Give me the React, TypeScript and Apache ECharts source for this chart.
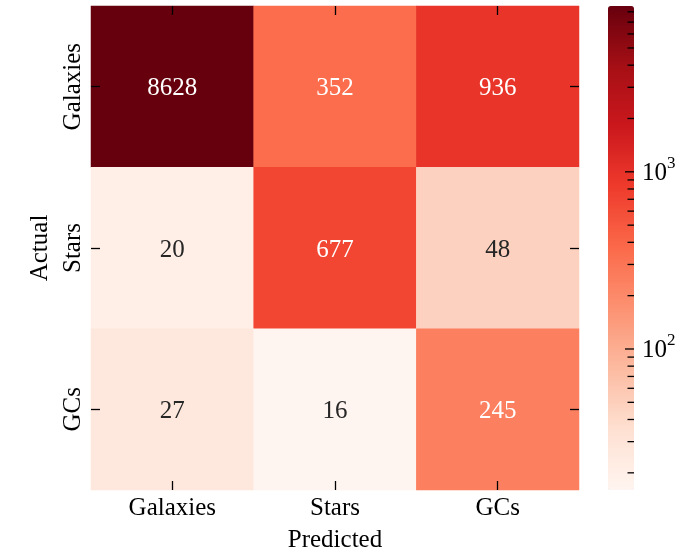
import React, { useEffect, useRef } from "react";
import * as echarts from "echarts";

const predicted = ["Galaxies", "Stars", "GCs"];
const actual = ["Galaxies", "Stars", "GCs"];
const counts: number[][] = [
  [8628, 352, 936],
  [20, 677, 48],
  [27, 16, 245],
];
const vmin = 16;
const vmax = 8628;
const redsColors = ["#fff5f0", "#fee0d2", "#fcbba1", "#fc9272", "#fb6a4a", "#ef3b2c", "#cb181d", "#a50f15", "#67000d"];
const majorTicks = [100, 1000];
const minorTicks = [20, 30, 40, 50, 60, 70, 80, 90, 200, 300, 400, 500, 600, 700, 800, 900, 2000, 3000, 4000, 5000, 6000, 7000, 8000];

const FONT = "'Liberation Serif', 'DejaVu Serif', serif";

function hexToRgb(h: string) {
  return [parseInt(h.slice(1, 3), 16), parseInt(h.slice(3, 5), 16), parseInt(h.slice(5, 7), 16)];
}
function cmap(t: number) {
  const n = redsColors.length - 1;
  const x = Math.max(0, Math.min(1, t)) * n;
  const i = Math.min(n - 1, Math.floor(x));
  const f = x - i;
  const a = hexToRgb(redsColors[i]);
  const b = hexToRgb(redsColors[i + 1]);
  return a.map((c, k) => c + (b[k] - c) * f);
}
function luminance(rgb: number[]) {
  const lin = rgb.map((c) => {
    const v = c / 255;
    return v <= 0.03928 ? v / 12.92 : Math.pow((v + 0.055) / 1.055, 2.4);
  });
  return 0.2126 * lin[0] + 0.7152 * lin[1] + 0.0722 * lin[2];
}

export default function App() {
  const ref = useRef<HTMLDivElement>(null);
  useEffect(() => {
    if (!ref.current) return;
    const chart = echarts.init(ref.current, undefined, { renderer: "svg" });
    const lmin = Math.log10(vmin);
    const lmax = Math.log10(vmax);
    const data: any[] = [];
    counts.forEach((row, yi) =>
      row.forEach((v, xi) => {
        const lv = Math.log10(v);
        const t = (lv - lmin) / (lmax - lmin);
        const dark = luminance(cmap(t)) > 0.408;
        data.push({ value: [xi, yi, lv, v], label: { color: dark ? "#262626" : "#ffffff" } });
      })
    );
    const tickData = [
      ...majorTicks.map((v) => [Math.log10(v), 1, v]),
      ...minorTicks.map((v) => [Math.log10(v), 0, v]),
    ];
    const tickStyle = { color: "#000", width: 1.3 };
    const catAxisBase = {
      type: "category" as const,
      axisLine: { show: false },
      axisTick: { show: true, inside: true, alignWithLabel: true, length: 9, lineStyle: tickStyle },
      splitLine: { show: false },
      z: 10,
    };
    chart.setOption({
      animation: false,
      textStyle: { fontFamily: FONT },
      grid: [
        { left: 91, top: 6, width: 488, height: 484 },
        { left: 608, top: 6, width: 26, height: 484 },
      ],
      xAxis: [
        {
          ...catAxisBase,
          gridIndex: 0,
          position: "bottom",
          data: predicted,
          axisLabel: { fontSize: 25, fontFamily: FONT, color: "#000", margin: 4 },
          name: "Predicted",
          nameLocation: "middle",
          nameGap: 36,
          nameTextStyle: { fontSize: 25, fontFamily: FONT, color: "#000" },
        },
        { ...catAxisBase, gridIndex: 0, position: "top", data: predicted, axisLabel: { show: false } },
        { type: "value", gridIndex: 1, min: 0, max: 1, show: false },
      ],
      yAxis: [
        {
          ...catAxisBase,
          gridIndex: 0,
          position: "left",
          inverse: true,
          data: actual,
          axisLabel: { fontSize: 25, fontFamily: FONT, color: "#000", rotate: 90, margin: 7 },
          name: "Actual",
          nameLocation: "middle",
          nameRotate: 90,
          nameGap: 39,
          nameTextStyle: { fontSize: 25, fontFamily: FONT, color: "#000" },
        },
        { ...catAxisBase, gridIndex: 0, position: "right", inverse: true, data: actual, axisLabel: { show: false } },
        { type: "value", gridIndex: 1, min: Math.log10(vmin), max: Math.log10(vmax), show: false },
      ],
      visualMap: {
        type: "continuous",
        min: lmin,
        max: lmax,
        dimension: 2,
        seriesIndex: 0,
        inRange: { color: redsColors },
        left: 608,
        top: 6,
        itemWidth: 26,
        itemHeight: 484,
        padding: 0,
        calculable: false,
        hoverLink: false,
        text: null,
      },
      series: [
        {
          type: "heatmap",
          xAxisIndex: 0,
          yAxisIndex: 0,
          data,
          label: {
            show: true,
            fontSize: 25,
            fontFamily: FONT,
            formatter: (p: any) => String(p.value[3]),
          },
          emphasis: { disabled: true },
        },
        {
          type: "custom",
          xAxisIndex: 2,
          yAxisIndex: 2,
          data: tickData,
          z: 20,
          silent: true,
          renderItem: (params: any, api: any) => {
            const v = api.value(0);
            const major = api.value(1) === 1;
            const p = api.coord([1, v]);
            const len = major ? 9 : 6.5;
            const children: any[] = [
              {
                type: "line",
                shape: { x1: p[0] - len, y1: p[1], x2: p[0], y2: p[1] },
                style: { stroke: "#000", lineWidth: 1.3 },
              },
            ];
            if (major) {
              const exp = Math.round(v);
              children.push({
                type: "text",
                x: p[0] + 8,
                y: p[1],
                style: { text: "10", fontSize: 25, fontFamily: FONT, fill: "#000", verticalAlign: "middle", align: "left" },
              });
              children.push({
                type: "text",
                x: p[0] + 33,
                y: p[1] - 9,
                style: { text: String(exp), fontSize: 17, fontFamily: FONT, fill: "#000", verticalAlign: "middle", align: "left" },
              });
            }
            return { type: "group", children };
          },
        },
      ],
    });
    return () => chart.dispose();
  }, []);
  return <div ref={ref} style={{ position: "fixed", left: 0, top: 0, width: 694, height: 556 }} />;
}
